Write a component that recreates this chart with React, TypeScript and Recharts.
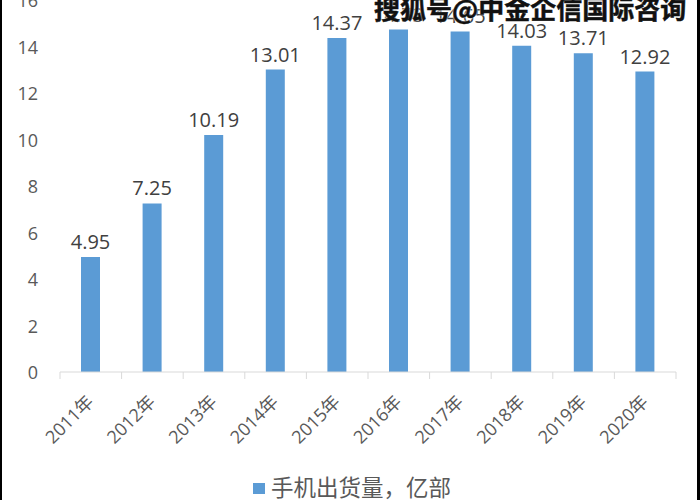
import { Bar, BarChart, LabelList, XAxis, YAxis } from "recharts";

const YEARS = ["2011年", "2012年", "2013年", "2014年", "2015年", "2016年", "2017年", "2018年", "2019年", "2020年"];
const SHIPMENTS = [4.95, 7.25, 10.19, 13.01, 14.37, 14.73, 14.65, 14.03, 13.71, 12.92];
const Y_TICKS = [0, 2, 4, 6, 8, 10, 12, 14, 16];
const SERIES_NAME = "手机出货量，亿部";
const WATERMARK = "搜狐号@中金企信国际咨询";

const BAR_COLOR = "#5B9BD5";
const AXIS_COLOR = "#D9D9D9";
const TEXT_COLOR = "#595959";
const FONT = '"Open Sans", "Noto Sans CJK SC", sans-serif';
const BAND = (676 - 60) / YEARS.length;

const data = YEARS.map((year, i) => ({ year, value: SHIPMENTS[i] }));

function XTick(props: any) {
  const { x, y, payload, index } = props;
  const left = x - BAND / 2;
  const isLast = index === YEARS.length - 1;
  // y comes in below the axis line; pull tick marks back up to it
  const axisY = y - 8;
  return (
    <g>
      <line x1={left} y1={axisY} x2={left} y2={axisY + 7} stroke={AXIS_COLOR} />
      {isLast && <line x1={left + BAND} y1={axisY} x2={left + BAND} y2={axisY + 7} stroke={AXIS_COLOR} />}
      <text
        x={x + 4}
        y={axisY + 31}
        textAnchor="end"
        transform={`rotate(-45, ${x + 4}, ${axisY + 31})`}
        fill={TEXT_COLOR}
        fontSize={18}
        fontFamily={FONT}
      >
        {payload.value}
      </text>
    </g>
  );
}

function YTick(props: any) {
  const { x, y, payload } = props;
  const ty = typeof payload.coordinate === "number" ? payload.coordinate : y;
  return (
    <text x={x} y={ty} textAnchor="end" dominantBaseline="central" fill={TEXT_COLOR} fontSize={18} fontFamily={FONT}>
      {payload.value}
    </text>
  );
}

export default function App() {
  return (
    <div
      style={{
        position: "fixed",
        top: 0,
        left: 0,
        width: 700,
        height: 500,
        background: "#fff",
        borderLeft: "2px solid #000",
        borderRight: "3px solid #000",
        boxSizing: "border-box",
        overflow: "hidden",
      }}
    >
      <div style={{ position: "absolute", left: -2, top: 0 }}>
        <BarChart width={700} height={500} data={data} margin={{ top: 0, right: 24, left: 0, bottom: 0 }}>
          <XAxis
            dataKey="year"
            axisLine={{ stroke: AXIS_COLOR }}
            tickLine={false}
            tick={<XTick />}
            interval={0}
            height={128}
          />
          <YAxis
            domain={[0, 16]}
            ticks={Y_TICKS}
            axisLine={false}
            tickLine={false}
            width={60}
            tick={<YTick />}
            tickMargin={16}
          />
          <Bar dataKey="value" name={SERIES_NAME} fill={BAR_COLOR} barSize={19} isAnimationActive={false}>
            <LabelList dataKey="value" position="top" offset={8} fill="#404040" fontSize={20} fontFamily={FONT} />
          </Bar>
        </BarChart>
      </div>
      <div
        style={{
          position: "absolute",
          left: 251,
          top: 475,
          display: "flex",
          alignItems: "center",
          fontFamily: FONT,
          fontSize: 22.5,
          lineHeight: "26px",
          color: TEXT_COLOR,
          whiteSpace: "nowrap",
        }}
      >
        <span style={{ width: 12, height: 11, background: BAR_COLOR, marginRight: 6, display: "inline-block" }} />
        {SERIES_NAME}
      </div>
      <div
        style={{
          position: "absolute",
          left: 372,
          top: -11,
          fontFamily: '"Noto Sans CJK SC", sans-serif',
          fontWeight: 700,
          fontSize: 26,
          color: "#111",
          WebkitTextStroke: "0.5px #111",
          textShadow: "0 0 2px #fff, 0 0 2px #fff",
          whiteSpace: "nowrap",
        }}
      >
        {WATERMARK}
      </div>
    </div>
  );
}
